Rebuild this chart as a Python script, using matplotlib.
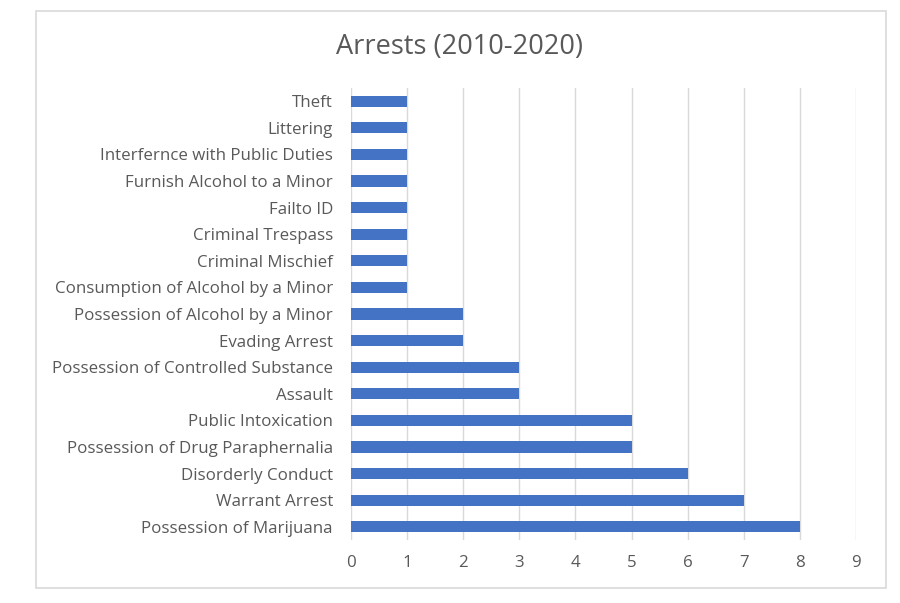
import matplotlib.pyplot as plt
from matplotlib.patches import Rectangle

categories = ['Possession of Marijuana', 'Warrant Arrest', 'Disorderly Conduct',
              'Possession of Drug Paraphernalia', 'Public Intoxication', 'Assault',
              'Possession of Controlled Substance', 'Evading Arrest',
              'Possession of Alcohol by a Minor', 'Consumption of Alcohol by a Minor',
              'Criminal Mischief', 'Criminal Trespass', 'Failto ID',
              'Furnish Alcohol to a Minor', 'Interfernce with Public Duties',
              'Littering', 'Theft']
arrests = [8, 7, 6, 5, 5, 3, 3, 2, 2, 1, 1, 1, 1, 1, 1, 1, 1]
x_ticks = list(range(10))

plt.rcParams['font.family'] = ['Open Sans', 'DejaVu Sans']
txt = '#595959'

fig = plt.figure(figsize=(9, 6.03), dpi=100)
# outer chart frame
fig.patches.append(Rectangle((36/900, 1-588/603), 850/900, 577/603, transform=fig.transFigure,
                             fill=False, edgecolor='#D9D9D9', linewidth=1.2))

ax = fig.add_axes([351/900, 1-540/603, 505/900, 452/603])
ax.barh(range(len(categories)), arrests, height=0.42, color='#4472C4', zorder=3)
ax.set_xlim(0, 9)
ax.set_ylim(-0.5, len(categories) - 0.5)
ax.set_yticks(range(len(categories)))
ax.set_yticklabels(categories, fontsize=12.2, color=txt)
ax.set_xticks(x_ticks)
ax.set_xticklabels([str(t) for t in x_ticks], fontsize=12.2, color=txt)
ax.tick_params(axis='both', length=0)
ax.tick_params(axis='x', pad=11)
ax.tick_params(axis='y', pad=13)
ax.grid(axis='x', color='#D9D9D9', linewidth=1, zorder=0)
for s in ax.spines.values():
    s.set_visible(False)

fig.text(460/900, 1-47/603, 'Arrests (2010-2020)', ha='center', va='center', fontsize=19.5, color=txt)

fig.savefig('out.png', dpi=100)
